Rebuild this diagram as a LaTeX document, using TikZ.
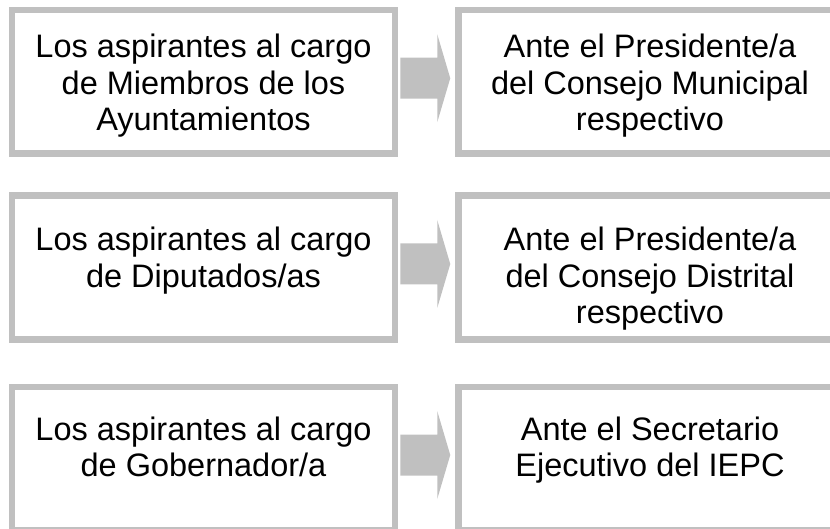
\documentclass[tikz,border=0pt]{standalone}
\usepackage{fontspec}
\setmainfont{Liberation Sans}
\definecolor{boxgray}{HTML}{C0C0C0}
\begin{document}
\begin{tikzpicture}[x=1pt,y=-1pt,
  box/.style={draw=boxgray, line width=6.5pt, rectangle, minimum width=383pt, minimum height=143.5pt, inner sep=0pt},
  txt/.style={font=\fontsize{32.5pt}{36.5pt}\selectfont, align=center, anchor=north, inner sep=0pt, text=black},
  arrowfill/.style={fill=boxgray}]
\clip (0,0) rectangle (830,529);
% boxes
\node[box] (L1) at (203.5,81.75) {};
\node[box] (R1) at (650,81.75) {};
\node[box] (L2) at (203.5,267.5) {};
\node[box] (R2) at (650,267.5) {};
\node[box] (L3) at (203.5,458.5) {};
\node[box] (R3) at (650,458.5) {};
% texts
\node[txt] (L1t) at ([yshift=-27.5pt]L1.north) {Los aspirantes al cargo\\de Miembros de los\\Ayuntamientos};
\node[txt] (R1t) at ([yshift=-27.5pt]R1.north) {Ante el Presidente/a\\del Consejo Municipal\\respectivo};
\node[txt] (L2t) at ([yshift=-34.5pt]L2.north) {Los aspirantes al cargo\\de Diputados/as};
\node[txt] (R2t) at ([yshift=-34.5pt]R2.north) {Ante el Presidente/a\\del Consejo Distrital\\respectivo};
\node[txt] (L3t) at ([yshift=-33pt]L3.north) {Los aspirantes al cargo\\de Gobernador/a};
\node[txt] (R3t) at ([yshift=-33pt]R3.north) {Ante el Secretario\\Ejecutivo del IEPC};
% arrows
\foreach \i in {1,2,3}{
  \coordinate (a\i) at ([xshift=2pt,yshift=3.5pt]L\i.east);
  \coordinate (b\i) at ([xshift=-5pt,yshift=3.5pt]R\i.west);
  \fill[arrowfill] ([yshift=20.5pt]a\i) -- ([xshift=-13pt,yshift=20.5pt]b\i) -- ([xshift=-13pt,yshift=44pt]b\i) -- (b\i) -- ([xshift=-13pt,yshift=-44pt]b\i) -- ([xshift=-13pt,yshift=-20.5pt]b\i) -- ([yshift=-20.5pt]a\i) -- cycle;
}
\end{tikzpicture}
\end{document}
